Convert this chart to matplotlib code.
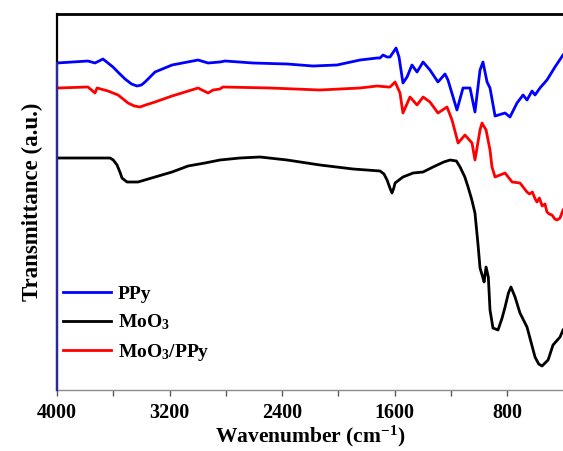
import numpy as np
import matplotlib
matplotlib.use('Agg')
import matplotlib.pyplot as plt
from matplotlib.ticker import MultipleLocator

font = {'family': 'Liberation Serif',
        'weight': 'bold',
        'size': 12}
matplotlib.rc('font', **font)
matplotlib.rcParams['axes.labelweight'] = 'bold'
matplotlib.rcParams['mathtext.fontset'] = 'custom'
matplotlib.rcParams['mathtext.rm'] = 'Liberation Serif:bold'
matplotlib.rcParams['mathtext.it'] = 'Liberation Serif:bold'
matplotlib.rcParams['mathtext.bf'] = 'Liberation Serif:bold'

# FTIR spectra (wavenumber in cm-1, transmittance in arbitrary units)
ppy_wn = [4000, 3780, 3730, 3673, 3602, 3560, 3516, 3470, 3431, 3400, 3374, 3303, 3182,
          2997, 2926, 2841, 2805, 2606, 2364, 2180, 2009, 1845, 1724, 1703, 1682, 1653,
          1632, 1589, 1568, 1540, 1511, 1476, 1440, 1397, 1348, 1291, 1241, 1220, 1156,
          1113, 1063, 1028, 992, 971, 942, 921, 885, 814, 779, 729, 686, 658, 622, 601,
          566, 516, 459, 402]
ppy_t = [327, 329, 327, 331, 323, 317, 311, 306, 304, 305, 308, 318, 325,
         330, 327, 328, 329, 327, 326, 324, 325, 330, 332, 332, 335, 333,
         333, 342, 333, 307, 313, 325, 318, 328, 320, 308, 316, 310, 280,
         302, 302, 278, 320, 328, 308, 302, 274, 277, 273, 287, 295, 290, 299, 295,
         302, 310, 323, 335]

moo3_wn = [4000, 3623, 3600, 3573, 3550, 3538, 3502, 3424, 3303, 3182, 3068, 2948, 2841,
           2699, 2556, 2364, 2130, 1895, 1703, 1675, 1653, 1630, 1618, 1605, 1596, 1540,
           1468, 1397, 1326, 1250, 1205, 1160, 1134, 1100, 1077, 1050, 1028, 1006, 992,
           973, 963, 949, 933, 921, 900, 864, 835, 814, 790, 772, 743, 708, 658, 601, 575,
           551, 508, 473, 423, 402]
moo3_t = [232, 232, 230, 225, 217, 212, 208, 208, 213, 218, 224, 227, 230,
          232, 233, 230, 225, 221, 219, 216, 210, 201, 197, 202, 207, 213,
          217, 218, 223, 228, 230, 229, 223, 213, 203, 190, 177, 145, 122,
          113, 108, 123, 113, 80, 62, 60, 72, 83, 97, 103, 93, 77, 63, 33, 26,
          24, 30, 45, 53, 60]

comp_wn = [4000, 3780, 3730, 3715, 3637, 3566, 3530, 3495, 3450, 3410, 3370, 3303, 3182,
           2997, 2926, 2890, 2841, 2820, 2485, 2130, 1845, 1724, 1646, 1632, 1596, 1561,
           1540, 1490, 1440, 1397, 1348, 1291, 1227, 1191, 1148, 1099, 1049, 1028, 992,
           978, 949, 921, 907, 885, 814, 764, 708, 658, 640, 620, 600, 587, 570, 550, 530,
           516, 500, 480, 460, 444, 423, 402]
comp_t = [302, 303, 297, 302, 299, 295, 291, 287, 284, 283, 285, 288, 294,
          302, 297, 300, 301, 303, 302, 300, 302, 304, 303, 303, 308, 297,
          277, 293, 285, 293, 288, 277, 283, 270, 247, 255, 247, 230, 260,
          267, 260, 240, 223, 213, 217, 208, 207, 198, 196, 198, 191, 188, 192, 184, 186,
          178, 176, 175, 171, 170, 172, 180]

fig = plt.figure(figsize=(5.63, 4.51), dpi=100)
ax = fig.add_axes([57/563, 61/451, 1 - 57/563, 376/451])

ax.plot(ppy_wn, ppy_t, c='#0000ff', lw=2.0, label='PPy')
ax.plot(moo3_wn, moo3_t, c='k', lw=2.0, label='MoO$_3$')
ax.plot(comp_wn, comp_t, c='#ff0000', lw=2.0, label='MoO$_3$/PPy')

ax.set_xlim(4000, 402)
ax.set_ylim(0, 376)

# left spine picks up the PPy colour below the curve start
ax.plot([ppy_wn[0], ppy_wn[0]], [0, ppy_t[0]], c='#2a2aa0', lw=1.6, clip_on=False, zorder=5)

ax.spines['right'].set_visible(False)
ax.spines['top'].set_linewidth(2)
ax.spines['left'].set_linewidth(1.6)
ax.spines['bottom'].set_color('0.55')
ax.spines['bottom'].set_linewidth(1)

ax.xaxis.set_major_locator(MultipleLocator(800))
ax.xaxis.set_minor_locator(MultipleLocator(400))
ax.set_xticks([4000, 3200, 2400, 1600, 800])
ax.tick_params(axis='x', which='both', direction='out', length=4, width=1, color='0.35',
               labelsize=14.5, pad=5)
ax.set_yticks([])

ax.set_xlabel('Wavenumber (cm$^{-1}$)', fontsize=15.5, fontweight='bold', labelpad=1)
ax.set_ylabel('Transmittance (a.u.)', fontsize=16.5, fontweight='bold', labelpad=10)

ax.legend(loc='lower left', bbox_to_anchor=(-0.022, 0.025), frameon=False, fontsize=14,
          handlelength=2.45, handletextpad=0.35, labelspacing=0.5)

fig.savefig('out.png', dpi=100)
